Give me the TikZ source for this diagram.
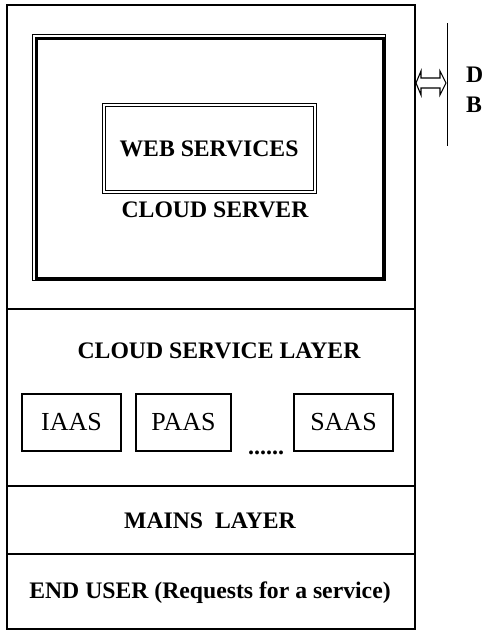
\documentclass[tikz,border=0pt]{standalone}
\usepackage{fontspec}
\setmainfont{Liberation Serif}
\begin{document}
\begin{tikzpicture}[x=1pt,y=-1pt,
  layer/.style={draw,line width=1.3pt},
  svc/.style={draw,line width=2pt,inner sep=0pt,font=\fontsize{26}{28}\selectfont},
  btxt/.style={font=\bfseries\fontsize{23.7}{26}\selectfont,inner sep=0pt}]
\useasboundingbox (0,0) rectangle (485,630);
% layers
\draw[layer] (7,5) rectangle (415,309);
\draw[layer] (7,309) rectangle (415,486);
\draw[layer] (7,486) rectangle (415,554);
\draw[layer] (7,554) rectangle (415,629);
% cloud server frame
\draw[line width=1pt] (32,34) rectangle (385,280);
\draw[line width=3pt] (36,38) rectangle (383.5,278.5);
% web services
\draw[line width=1pt] (102,103) rectangle (316,193);
\draw[line width=1pt] (105,106) rectangle (313,190);
\node[btxt] (ws) at (209,149) {WEB SERVICES};
\node[btxt] (cs) at (215,210) {CLOUD SERVER};
% DB
\draw[line width=1pt] (447,23) -- (447,146);
\draw[line width=1.1pt] (416,83) -- (421,71) -- (421,78) -- (440,78) -- (440,71) -- (446,83)
  -- (440,95) -- (440,88) -- (421,88) -- (421,95) -- cycle;
\node[btxt,anchor=west] (d) at (466,75) {D};
\node[btxt,anchor=west] (b) at (466,105) {B};
% service layer
\node[btxt] (csl) at (219,351) {CLOUD SERVICE LAYER};
\node[svc,minimum width=99pt,minimum height=57pt] (iaas) at (71.5,422.5) {IAAS};
\node[svc,minimum width=95pt,minimum height=57pt] (paas) at (183.5,422.5) {PAAS};
\node[svc,minimum width=99pt,minimum height=57pt] (saas) at (343.5,422.5) {SAAS};
\node[font=\bfseries\fontsize{24}{26}\selectfont,inner sep=0pt,anchor=base] (dots) at (266,454) {......};
\node[btxt] (ml) at (210,521) {MAINS\ \ LAYER};
\node[btxt] (eu) at (210,593) {END USER (Requests for a service)};
\end{tikzpicture}
\end{document}
